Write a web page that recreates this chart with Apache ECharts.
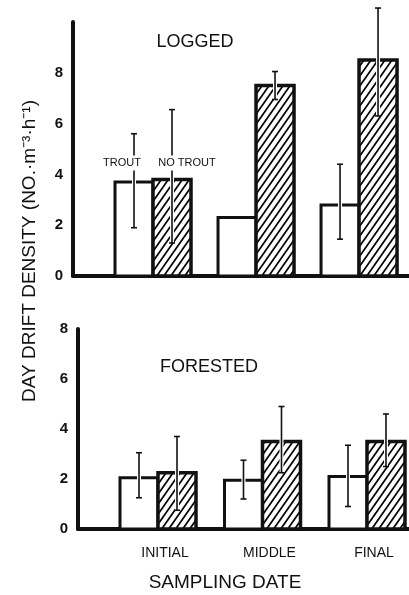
<!DOCTYPE html>
<html>
<head>
<meta charset="utf-8">
<script src="https://cdn.jsdelivr.net/npm/echarts@6/dist/echarts.min.js"></script>
<style>
html,body{margin:0;padding:0;background:#fff;}
#c{width:409px;height:595px;}
</style>
</head>
<body>
<div id="c"></div>
<script>
// ---- data ----
const categories = ['INITIAL', 'MIDDLE', 'FINAL'];
const yTicksLogged = [0, 2, 4, 6, 8];
const yTicksForested = [0, 2, 4, 6, 8];

const loggedTrout = [3.7, 2.3, 2.8];
const loggedTroutLow = [1.9, null, 1.45];
const loggedTroutHigh = [5.6, null, 4.4];
const loggedNoTrout = [3.8, 7.5, 8.5];
const loggedNoTroutLow = [1.3, 6.95, 6.3];
const loggedNoTroutHigh = [6.55, 8.05, 10.55];

const forestedTrout = [2.05, 1.95, 2.1];
const forestedTroutLow = [1.25, 1.2, 0.9];
const forestedTroutHigh = [3.05, 2.75, 3.35];
const forestedNoTrout = [2.25, 3.5, 3.5];
const forestedNoTroutLow = [0.75, 2.25, 2.5];
const forestedNoTroutHigh = [3.7, 4.9, 4.6];

// ---- styles ----
const FONT = 'Liberation Sans';
const BAR_W = 38;
const INK = '#111';

// hatch pattern
const pc = document.createElement('canvas');
pc.width = 7; pc.height = 10;
const g = pc.getContext('2d');
g.fillStyle = '#fff'; g.fillRect(0, 0, 7, 10);
g.strokeStyle = '#000'; g.lineWidth = 1.7;
g.beginPath();
g.moveTo(-1, 11.43); g.lineTo(8, -1.43);
g.moveTo(-1, 1.43); g.lineTo(1, -1.43);
g.moveTo(6, 11.43); g.lineTo(8, 8.57);
g.stroke();
const hatch = { image: pc, repeat: 'repeat' };

function barRender(side, hatched) {
  return function (params, api) {
    const x = api.value(0), v = api.value(1);
    const p0 = api.coord([x, 0]);
    const p1 = api.coord([x, v]);
    const left = side < 0 ? p0[0] - BAR_W : p0[0];
    return {
      type: 'rect',
      shape: { x: left, y: p1[1], width: BAR_W, height: p0[1] - p1[1] },
      style: { fill: hatched ? hatch : '#fff', stroke: INK, lineWidth: hatched ? 3.5 : 3 }
    };
  };
}
function errRender(side) {
  return function (params, api) {
    const x = api.value(0);
    const lo = api.value(1), hi = api.value(2);
    if (lo == null || hi == null || isNaN(lo) || isNaN(hi)) return null;
    const a = api.coord([x, lo]);
    const b = api.coord([x, hi]);
    const cx = a[0] + side * BAR_W / 2;
    const cap = 3;
    return {
      type: 'group',
      children: [
        { type: 'line', shape: { x1: cx, y1: a[1], x2: cx, y2: b[1] }, style: { stroke: '#fff', lineWidth: 4 } },
        { type: 'line', shape: { x1: cx, y1: a[1], x2: cx, y2: b[1] }, style: { stroke: INK, lineWidth: 1.6 } },
        { type: 'line', shape: { x1: cx - cap, y1: a[1], x2: cx + cap, y2: a[1] }, style: { stroke: INK, lineWidth: 1.6 } },
        { type: 'line', shape: { x1: cx - cap, y1: b[1], x2: cx + cap, y2: b[1] }, style: { stroke: INK, lineWidth: 1.6 } }
      ]
    };
  };
}
const pts = arr => arr.map((v, i) => [i + 1, v]);
const errPts = (lo, hi) => lo.map((v, i) => [i + 1, v == null ? '-' : v, hi[i] == null ? '-' : hi[i]]);

function barSeries(idx, vals, side, hatched, name) {
  return { type: 'custom', name: name, xAxisIndex: idx, yAxisIndex: idx, renderItem: barRender(side, hatched), data: pts(vals), clip: false, z: 2 };
}
function errSeries(idx, lo, hi, side) {
  return { type: 'custom', xAxisIndex: idx, yAxisIndex: idx, renderItem: errRender(side), data: errPts(lo, hi), clip: false, z: 3 };
}

const axisLineStyle = { show: true, onZero: false, lineStyle: { color: INK, width: 4 } };

const chart = echarts.init(document.getElementById('c'), null, { renderer: 'canvas' });
chart.setOption({
  backgroundColor: '#fff',
  animation: false,
  grid: [
    { left: 73, right: 0, top: 22, height: 254 },
    { left: 78, right: 0, top: 329, height: 200 }
  ],
  xAxis: [
    { gridIndex: 0, type: 'value', min: 0.2233, max: 3.485, axisLine: axisLineStyle, axisTick: { show: false }, axisLabel: { show: false }, splitLine: { show: false } },
    { gridIndex: 1, type: 'value', min: 0.2344, max: 3.402, axisLine: axisLineStyle, axisTick: { show: false }, splitLine: { show: false },
      axisLabel: { customValues: [1, 2, 3], formatter: v => categories[Math.round(v) - 1], fontFamily: FONT, fontSize: 14, color: INK, margin: 17, padding: [0, 0, 0, 14] } }
  ],
  yAxis: [
    { gridIndex: 0, type: 'value', min: 0, max: 10, interval: 2, axisLine: axisLineStyle, axisTick: { show: false }, splitLine: { show: false },
      axisLabel: { customValues: yTicksLogged, fontFamily: FONT, fontSize: 15, fontWeight: 'bold', color: INK, margin: 10 } },
    { gridIndex: 1, type: 'value', min: 0, max: 8, interval: 2, axisLine: axisLineStyle, axisTick: { show: false }, splitLine: { show: false },
      axisLabel: { customValues: yTicksForested, fontFamily: FONT, fontSize: 15, fontWeight: 'bold', color: INK, margin: 10 } }
  ],
  series: [
    barSeries(0, loggedTrout, -1, false, 'TROUT'),
    barSeries(0, loggedNoTrout, 1, true, 'NO TROUT'),
    errSeries(0, loggedTroutLow, loggedTroutHigh, -1),
    errSeries(0, loggedNoTroutLow, loggedNoTroutHigh, 1),
    barSeries(1, forestedTrout, -1, false, 'TROUT'),
    barSeries(1, forestedNoTrout, 1, true, 'NO TROUT'),
    errSeries(1, forestedTroutLow, forestedTroutHigh, -1),
    errSeries(1, forestedNoTroutLow, forestedNoTroutHigh, 1)
  ],
  graphic: [
    { type: 'text', x: 30, y: 251, rotation: Math.PI / 2, z: 10,
      style: { text: 'DAY DRIFT DENSITY (NO.·m⁻³·h⁻¹)', font: '19px "Liberation Sans"', fill: INK, textAlign: 'center', textVerticalAlign: 'middle' } },
    { type: 'text', x: 195, y: 42, z: 10,
      style: { text: 'LOGGED', font: '18px "Liberation Sans"', fill: INK, textAlign: 'center', textVerticalAlign: 'middle' } },
    { type: 'text', x: 209, y: 367, z: 10,
      style: { text: 'FORESTED', font: '18px "Liberation Sans"', fill: INK, textAlign: 'center', textVerticalAlign: 'middle' } },
    { type: 'text', x: 225, y: 583, z: 10,
      style: { text: 'SAMPLING DATE', font: '19px "Liberation Sans"', fill: INK, textAlign: 'center', textVerticalAlign: 'middle' } },
    { type: 'text', x: 122, y: 163, z: 10,
      style: { text: 'TROUT', font: '11px "Liberation Sans"', fill: INK, textAlign: 'center', textVerticalAlign: 'middle', backgroundColor: '#fff', padding: [2, 1] } },
    { type: 'text', x: 187, y: 163, z: 10,
      style: { text: 'NO TROUT', font: '11px "Liberation Sans"', fill: INK, textAlign: 'center', textVerticalAlign: 'middle', backgroundColor: '#fff', padding: [2, 1] } }
  ]
});
</script>
</body>
</html>
